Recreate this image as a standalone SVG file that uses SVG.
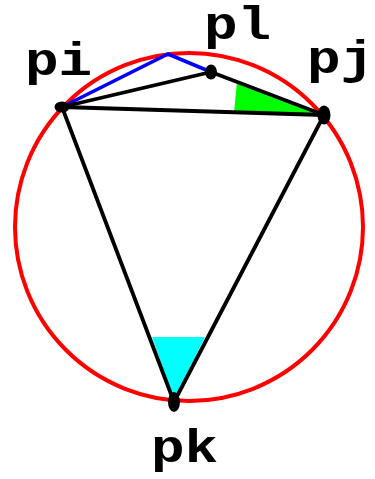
<svg xmlns="http://www.w3.org/2000/svg" width="375" height="479" viewBox="0 0 375 479">
<style>
.lbl{font-family:"Liberation Mono","Courier New",monospace;font-weight:bold;font-size:56px;fill:#000}
.edge{stroke:#000;stroke-width:3.8;fill:none;stroke-linecap:round}
.pt{fill:#000}
</style>
<rect width="375" height="479" fill="#fff"/>
<g id="angles">
<polygon points="237,82 234,112 324,115" fill="#00ff00"/>
<polygon points="152,337 205,337 174,400" fill="#00ffff"/>
</g>
<g id="circle">
<circle cx="189" cy="227" r="174" fill="none" stroke="#ff0000" stroke-width="4"/>
</g>
<g id="connectors">
<polyline points="62,107 168,54 211,72" fill="none" stroke="#0000ff" stroke-width="3.6"/>
<line class="edge" x1="62" y1="107" x2="211" y2="72"/>
<line class="edge" x1="211" y1="72" x2="324" y2="115"/>
<line class="edge" x1="62" y1="107" x2="324" y2="115"/>
<line class="edge" x1="62" y1="107" x2="174" y2="402"/>
<line class="edge" x1="324" y1="115" x2="174" y2="402"/>
</g>
<g id="pi"><ellipse class="pt" cx="62" cy="107" rx="7.5" ry="5.5"/><text class="lbl" transform="translate(25,75) scale(1,0.83)">pi</text></g>
<g id="pl"><ellipse class="pt" cx="211" cy="72" rx="6" ry="7.5"/><text class="lbl" transform="translate(204,39) scale(1,0.83)">pl</text></g>
<g id="pj"><ellipse class="pt" cx="324" cy="115" rx="6.5" ry="9.5"/><text class="lbl" transform="translate(307,73) scale(1,0.83)">pj</text></g>
<g id="pk"><ellipse class="pt" cx="174" cy="402" rx="6" ry="10"/><text class="lbl" transform="translate(151,462) scale(1,0.83)">pk</text></g>
</svg>
